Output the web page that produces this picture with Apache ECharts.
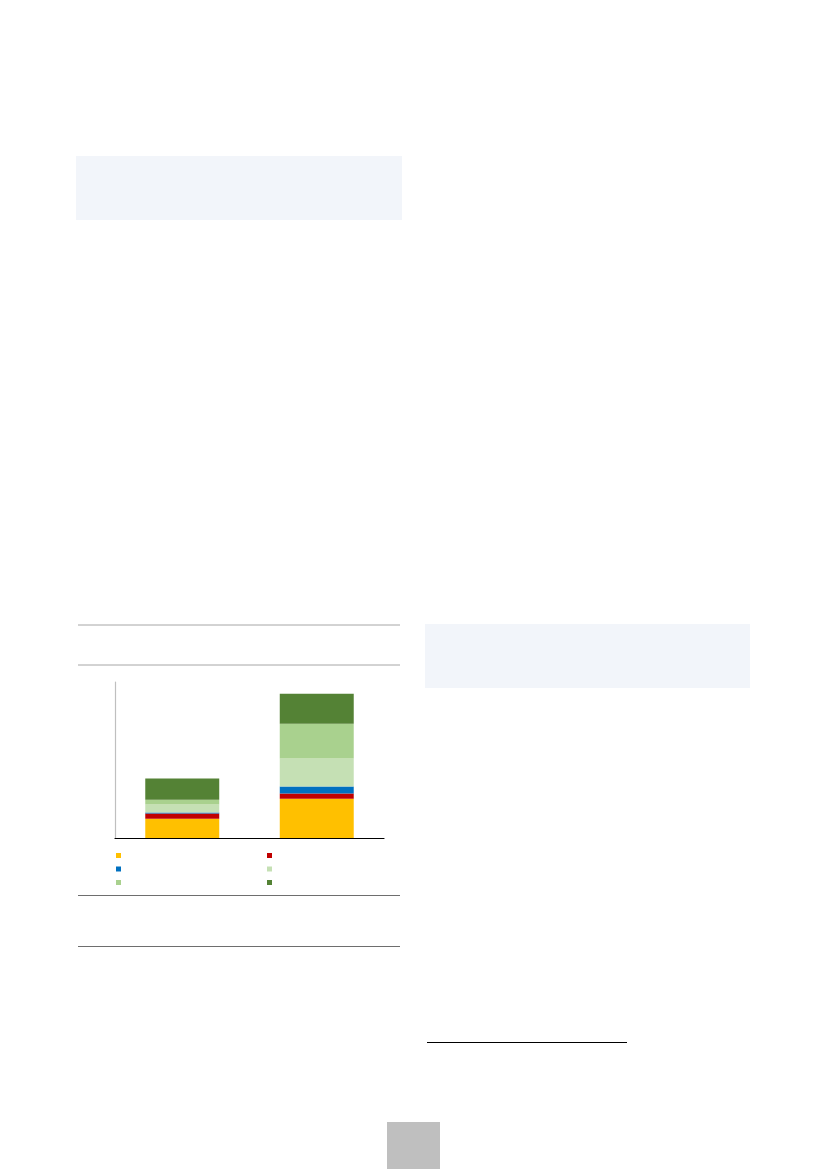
<!DOCTYPE html>
<html>
<head>
<meta charset="utf-8">
<script src="https://cdn.jsdelivr.net/npm/echarts@6/dist/echarts.min.js"></script>
<style>
html,body{margin:0;padding:0;background:#fff;}
#chart{width:827px;height:1169px;}
</style>
</head>
<body>
<div id="chart"></div>
<script>
var categories = ['A', 'B'];
var seriesNames = ['s1', 's2', 's3', 's4', 's5', 's6'];
var seriesColors = ['#FFC000', '#C00000', '#0070C0', '#C5E0B4', '#A9D18E', '#548235'];
var yellowValues = [9.9, 20.1];
var redValues = [2.7, 2.7];
var blueValues = [0.5, 3.6];
var lightGreenValues = [4.1, 14.4];
var midGreenValues = [2.4, 17.8];
var darkGreenValues = [10.9, 15.4];
var yMax = 80;

var valuesList = [yellowValues, redValues, blueValues, lightGreenValues, midGreenValues, darkGreenValues];

var chart = echarts.init(document.getElementById('chart'), null, {renderer: 'canvas'});

var series = valuesList.map(function (vals, i) {
  return {
    name: seriesNames[i],
    type: 'bar',
    stack: 'total',
    barWidth: '55%',
    data: vals,
    itemStyle: {color: seriesColors[i]},
    emphasis: {disabled: true}
  };
});

function legendCfg(left, names) {
  return {
    left: left,
    top: 853,
    padding: 0,
    orient: 'vertical',
    itemWidth: 5,
    itemHeight: 5,
    itemGap: 8.5,
    icon: 'rect',
    data: names,
    formatter: function () { return ''; },
    textStyle: {fontSize: 5, lineHeight: 5},
    selectedMode: false
  };
}

var option = {
  backgroundColor: '#ffffff',
  animation: false,
  grid: {left: 115, top: 682, width: 269, height: 156, containLabel: false},
  xAxis: {
    type: 'category',
    data: categories,
    axisLine: {show: true, lineStyle: {color: '#000000', width: 1.2}},
    axisTick: {show: false},
    axisLabel: {show: false},
    splitLine: {show: false}
  },
  yAxis: {
    type: 'value',
    min: 0,
    max: yMax,
    axisLine: {show: true, lineStyle: {color: '#bfbfbf', width: 1.2}},
    axisTick: {show: false},
    axisLabel: {show: false},
    splitLine: {show: false}
  },
  legend: [
    legendCfg(116, [seriesNames[0], seriesNames[2], seriesNames[4]]),
    legendCfg(267, [seriesNames[1], seriesNames[3], seriesNames[5]])
  ],
  graphic: [
    {type: 'rect', left: 76, top: 156, shape: {width: 326, height: 64}, style: {fill: '#F2F5FA'}, silent: true},
    {type: 'rect', left: 425, top: 624, shape: {width: 325, height: 64}, style: {fill: '#F2F5FA'}, silent: true},
    {type: 'line', shape: {x1: 78, y1: 625, x2: 400, y2: 625}, style: {stroke: '#a6a6a6', lineWidth: 1}, silent: true},
    {type: 'line', shape: {x1: 78, y1: 665, x2: 400, y2: 665}, style: {stroke: '#a6a6a6', lineWidth: 1}, silent: true},
    {type: 'line', shape: {x1: 78, y1: 895.5, x2: 400, y2: 895.5}, style: {stroke: '#6e6e6e', lineWidth: 1}, silent: true},
    {type: 'line', shape: {x1: 78, y1: 946.5, x2: 400, y2: 946.5}, style: {stroke: '#6e6e6e', lineWidth: 1}, silent: true},
    {type: 'line', shape: {x1: 427, y1: 1042.5, x2: 627, y2: 1042.5}, style: {stroke: '#000000', lineWidth: 1}, silent: true},
    {type: 'rect', left: 387, top: 1122, shape: {width: 53, height: 47}, style: {fill: '#BFBFBF'}, silent: true}
  ],
  series: series
};

chart.setOption(option);
</script>
</body>
</html>
